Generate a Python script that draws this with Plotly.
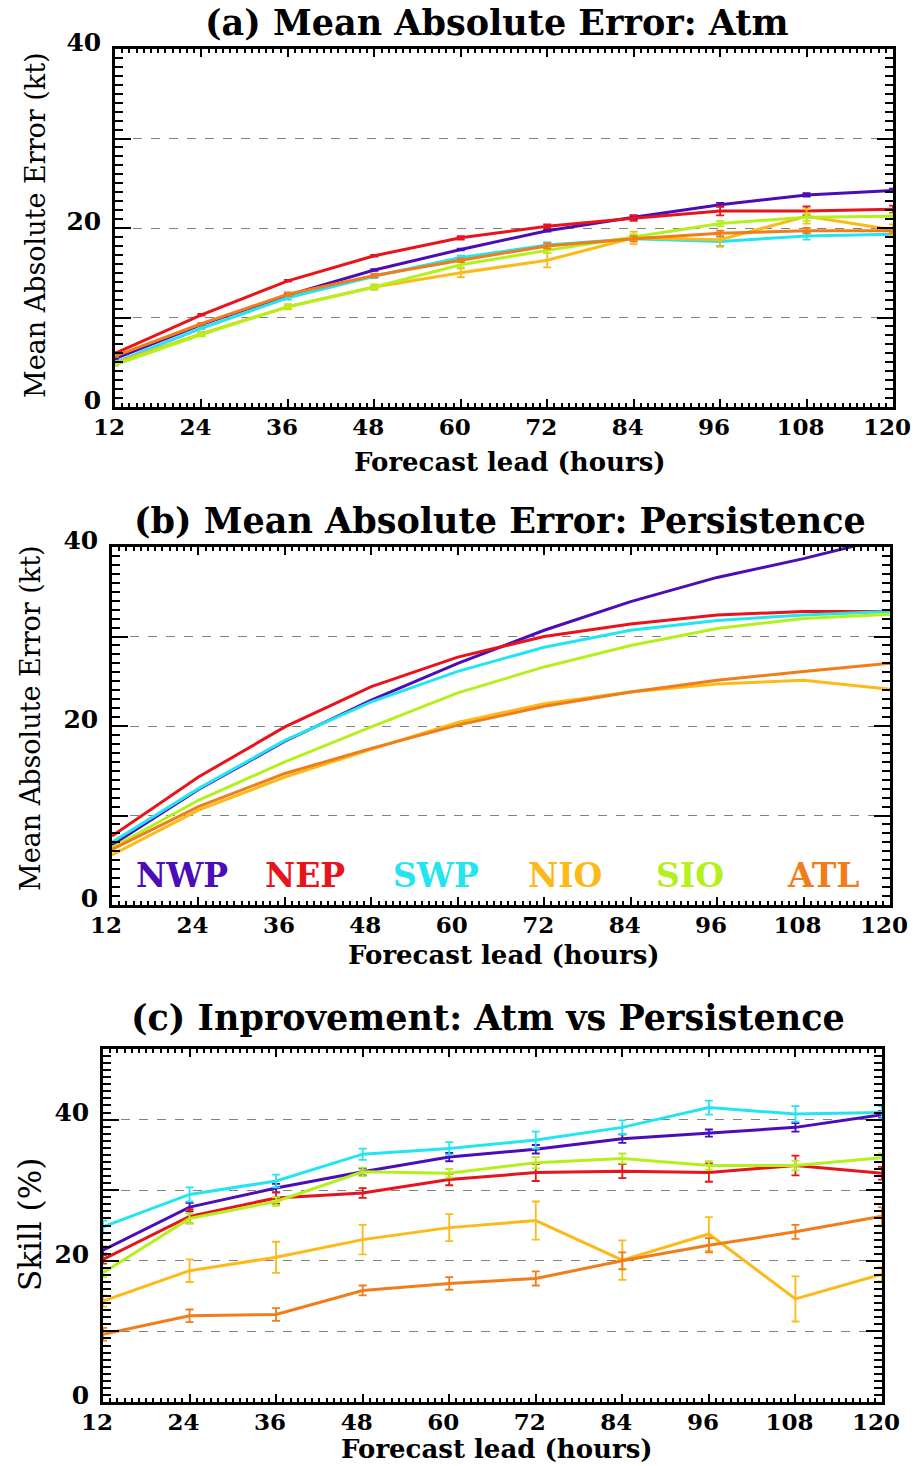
import plotly.graph_objects as go

# Forecast lead times (hours)
lead = [12, 24, 36, 48, 60, 72, 84, 96, 108, 120]

regions = ["NWP", "NEP", "SWP", "NIO", "SIO", "ATL"]
colors = {
    "NWP": "#4A0DB8",
    "NEP": "#E8131B",
    "SWP": "#22E5F0",
    "NIO": "#FBBA18",
    "SIO": "#B4F01C",
    "ATL": "#F07D1A",
}

# (a) Mean absolute error of the atmospheric model (kt)
atm_nwp = [5.4, 9.2, 12.5, 15.3, 17.6, 19.7, 21.2, 22.6, 23.7, 24.2]
atm_nep = [6.0, 10.3, 14.1, 16.9, 18.9, 20.2, 21.1, 21.9, 21.9, 22.1]
atm_swp = [5.0, 8.8, 12.2, 14.6, 16.7, 18.1, 18.8, 18.5, 19.1, 19.3]
atm_nio = [4.9, 8.2, 11.2, 13.4, 15.0, 16.4, 18.9, 18.7, 21.3, 19.8]
atm_sio = [4.7, 8.1, 11.2, 13.4, 15.9, 17.5, 19.0, 20.5, 21.2, 21.3]
atm_atl = [5.7, 9.3, 12.6, 14.7, 16.4, 18.0, 18.8, 19.4, 19.7, 19.7]

atm_err_nwp = [0.1, 0.1, 0.1, 0.1, 0.1, 0.1, 0.2, 0.2, 0.2, 0.2]
atm_err_nep = [0.1, 0.1, 0.1, 0.1, 0.2, 0.2, 0.3, 0.5, 0.5, 0.4]
atm_err_swp = [0.1, 0.1, 0.2, 0.2, 0.2, 0.3, 0.3, 0.5, 0.4, 0.3]
atm_err_nio = [0.2, 0.2, 0.3, 0.3, 0.5, 0.8, 0.7, 0.8, 0.8, 0.6]
atm_err_sio = [0.1, 0.2, 0.2, 0.2, 0.3, 0.3, 0.3, 0.3, 0.4, 0.3]
atm_err_atl = [0.1, 0.1, 0.2, 0.2, 0.2, 0.3, 0.3, 0.3, 0.3, 0.3]

# (b) Mean absolute error of persistence (kt)
per_nwp = [6.7, 12.9, 18.3, 22.9, 27.0, 30.7, 33.9, 36.6, 38.7, 41.1]
per_nep = [7.7, 14.3, 19.9, 24.4, 27.7, 30.0, 31.4, 32.4, 32.8, 32.8]
per_swp = [7.0, 13.0, 18.4, 22.7, 26.1, 28.8, 30.7, 31.8, 32.4, 32.8]
per_nio = [5.6, 10.6, 14.3, 17.4, 20.4, 22.5, 23.8, 24.7, 25.1, 24.1]
per_sio = [6.4, 11.7, 16.0, 19.9, 23.7, 26.6, 29.0, 30.9, 32.0, 32.5]
per_atl = [6.2, 11.0, 14.7, 17.5, 20.1, 22.2, 23.8, 25.1, 26.1, 27.0]

# (c) Skill of the model relative to persistence (%)
skill_nwp = [21.5, 27.6, 30.3, 32.6, 34.7, 35.8, 37.3, 38.1, 38.9, 40.7]
skill_nep = [20.2, 26.3, 28.9, 29.6, 31.5, 32.5, 32.7, 32.5, 33.5, 32.4]
skill_swp = [24.8, 29.4, 31.3, 35.1, 35.9, 37.1, 38.9, 41.7, 40.8, 41.0]
skill_nio = [14.3, 18.6, 20.5, 23.0, 24.7, 25.7, 20.1, 23.8, 14.6, 18.1]
skill_sio = [18.3, 26.0, 28.4, 32.6, 32.4, 33.9, 34.5, 33.5, 33.5, 34.6]
skill_atl = [9.6, 12.2, 12.4, 15.8, 16.8, 17.5, 20.0, 22.2, 24.1, 26.3]

skill_err_nwp = [0.5, 0.6, 0.6, 0.5, 0.6, 0.6, 0.6, 0.5, 0.6, 0.5]
skill_err_nep = [0.6, 1.0, 0.8, 0.7, 0.8, 1.2, 1.0, 1.3, 1.4, 0.9]
skill_err_swp = [0.9, 1.0, 0.9, 0.8, 0.9, 1.2, 1.0, 1.0, 1.1, 0.9]
skill_err_nio = [0.8, 1.6, 2.2, 2.1, 1.9, 2.7, 2.8, 2.4, 3.2, 1.0]
skill_err_sio = [0.6, 0.7, 0.6, 0.6, 0.6, 0.8, 0.7, 0.6, 0.7, 0.6]
skill_err_atl = [0.9, 0.9, 0.9, 0.7, 0.9, 1.0, 1.2, 1.0, 1.0, 1.3]

atm = dict(zip(regions, [atm_nwp, atm_nep, atm_swp, atm_nio, atm_sio, atm_atl]))
atm_err = dict(zip(regions, [atm_err_nwp, atm_err_nep, atm_err_swp, atm_err_nio, atm_err_sio, atm_err_atl]))
per = dict(zip(regions, [per_nwp, per_nep, per_swp, per_nio, per_sio, per_atl]))
skill = dict(zip(regions, [skill_nwp, skill_nep, skill_swp, skill_nio, skill_sio, skill_atl]))
skill_err = dict(zip(regions, [skill_err_nwp, skill_err_nep, skill_err_swp, skill_err_nio, skill_err_sio, skill_err_atl]))

W, H = 914, 1466
FONT = "DejaVu Serif"


def px(x):
    return x / W


def py(y):
    return 1 - y / H


fig = go.Figure()

# panel boxes in pixel coordinates: (left, right, top, bottom)
boxes = [
    (115, 893, 49, 407),
    (112, 890, 547, 905),
    (103, 882, 1049, 1402),
]

panels = [(atm, atm_err), (per, None), (skill, skill_err)]
for i, (vals, errs) in enumerate(panels):
    sfx = "" if i == 0 else str(i + 1)
    for r in regions:
        tr = dict(
            x=lead, y=vals[r], mode="lines",
            line=dict(color=colors[r], width=3),
            xaxis="x" + sfx, yaxis="y" + sfx, showlegend=False,
        )
        if errs is not None:
            tr["error_y"] = dict(type="data", array=errs[r], visible=True,
                                 color=colors[r], thickness=1.8, width=4)
        fig.add_trace(go.Scatter(**tr))

xtickfont = dict(family=FONT, size=23, color="black", weight="bold")
ytickfont = dict(family=FONT, size=25, color="black", weight="bold")
ymaxes = [40, 40, 50]
for i, (l, r, t, b) in enumerate(boxes):
    sfx = "" if i == 0 else str(i + 1)
    ymax = ymaxes[i]
    yvals = list(range(0, ymax + 1, 10))
    ytext = [str(v) if v % 20 == 0 else "" for v in yvals]
    fig.layout["xaxis" + sfx] = dict(
        domain=[px(l), px(r)], anchor="y" + sfx, range=[12, 120],
        tickvals=lead, ticktext=[str(v) for v in lead],
        ticks="inside", ticklen=8, tickwidth=2, tickcolor="black",
        minor=dict(ticks="inside", dtick=1, ticklen=4, tickwidth=1.5, tickcolor="black"),
        showline=True, linewidth=2.5, linecolor="black", mirror="allticks",
        showgrid=False, zeroline=False, tickfont=xtickfont,
        ticklabelstandoff=-2, ticklabelshift=-6, ticklabeloverflow="allow",
        automargin=False,
    )
    fig.layout["yaxis" + sfx] = dict(
        domain=[py(b), py(t)], anchor="x" + sfx, range=[0, ymax],
        tickvals=yvals, ticktext=ytext,
        ticks="inside", ticklen=16, tickwidth=2, tickcolor="black",
        minor=dict(ticks="inside", dtick=1, ticklen=8, tickwidth=1.5, tickcolor="black"),
        showline=True, linewidth=2.5, linecolor="black", mirror="allticks",
        showgrid=True, gridcolor="#808080", griddash="dash", gridwidth=1.3,
        zeroline=False, tickfont=ytickfont, ticklabelstandoff=6,
        ticklabelshift=-7, ticklabeloverflow="allow", automargin=False,
    )

annotations = []


def text(x, y, s, size, bold=True, color="black", angle=0):
    annotations.append(dict(
        x=px(x), y=py(y), xref="paper", yref="paper", text=s, showarrow=False,
        xanchor="center", yanchor="middle", textangle=angle,
        font=dict(family=FONT, size=size, color=color,
                  weight="bold" if bold else "normal"),
    ))


# panel titles
text(497, 23, "(a) Mean Absolute Error: Atm", 35)
text(500, 520, "(b) Mean Absolute Error: Persistence", 35)
text(488, 1017, "(c) Inprovement: Atm vs Persistence", 35)

# x-axis titles
text(510, 462, "Forecast lead (hours)", 26)
text(504, 955, "Forecast lead (hours)", 26)
text(497, 1449, "Forecast lead (hours)", 26)

# y-axis titles
text(35, 225, "Mean Absolute Error (kt)", 27, bold=False, angle=-90)
text(30, 718, "Mean Absolute Error (kt)", 27, bold=False, angle=-90)
text(30, 1225, "Skill (%)", 31, bold=False, angle=-90)

# region key inside panel (b)
key_x = [182, 305, 436, 565, 690, 823]
for r, kx in zip(regions, key_x):
    text(kx, 876, r, 33, color=colors[r])

fig.update_layout(
    width=W, height=H, margin=dict(l=0, r=0, t=0, b=0),
    paper_bgcolor="white", plot_bgcolor="white",
    annotations=annotations, showlegend=False,
)

fig.write_html("out.html")
